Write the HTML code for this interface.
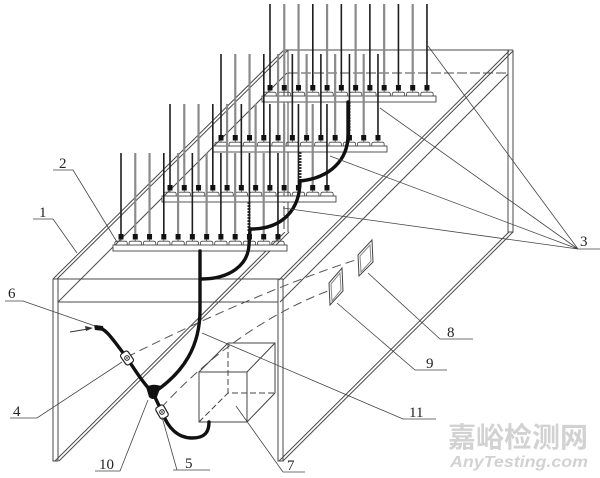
<!DOCTYPE html>
<html>
<head>
<meta charset="utf-8">
<style>
  html,body{margin:0;padding:0;background:#fff;}
  body{width:600px;height:478px;overflow:hidden;}
  svg{display:block;}
  .lbl{font-family:"Liberation Serif",serif;font-size:15px;fill:#222;}
</style>
</head>
<body>
<svg width="600" height="478" viewBox="0 0 600 478" xmlns="http://www.w3.org/2000/svg">
  <defs>
    <g id="rodG">
      <line x1="0" y1="153" x2="0" y2="235" stroke="#8a8a8a" stroke-width="2.2"/>
      <rect x="-2.5" y="234" width="5" height="5.5" fill="#111"/>
      <path d="M0,239 V241 M-6.2,245 v-1.8 q0,-2 2,-2 h8.4 q2,0 2,2 v1.8" stroke="#444" fill="none" stroke-width="0.8"/>
    </g>
    <g id="rodB">
      <line x1="0" y1="153" x2="0" y2="235" stroke="#1e1e1e" stroke-width="1.6"/>
      <rect x="-2.5" y="234" width="5" height="5.5" fill="#111"/>
      <path d="M0,239 V241 M-6.2,245 v-1.8 q0,-2 2,-2 h8.4 q2,0 2,2 v1.8" stroke="#444" fill="none" stroke-width="0.8"/>
    </g>
    <g id="lv">
      <rect x="113" y="245" width="174" height="6" fill="#fff" stroke="#444" stroke-width="0.9"/>
      <line x1="200" y1="251" x2="200" y2="280" stroke="#333" stroke-width="3" stroke-dasharray="2 1"/>
      <use href="#rodB" x="121"/>
      <use href="#rodG" x="135.27"/>
      <use href="#rodG" x="149.54"/>
      <use href="#rodB" x="163.81"/>
      <use href="#rodG" x="178.08"/>
      <use href="#rodB" x="192.35"/>
      <use href="#rodG" x="206.62"/>
      <use href="#rodB" x="220.89"/>
      <use href="#rodG" x="235.16"/>
      <use href="#rodB" x="249.43"/>
      <use href="#rodG" x="263.7"/>
      <use href="#rodB" x="277.97"/>
    </g>
  </defs>

  <!-- Frame -->
  <g stroke="#4a4a4a" stroke-width="1" fill="none">
    <path d="M53,279 H283"/>
    <path d="M58,302 H278"/>
    <path d="M53,279 V461 H58 V279"/>
    <path d="M278,279 V461 H283 V279"/>
    <path d="M53,279 L284,50"/>
    <path d="M57,279 L288,50"/>
    <path d="M58,302 L287,73"/>
    <path d="M55,461 L285,232"/>
    <path d="M59,461 L289,232"/>
    <path d="M279,280 L509,51"/>
    <path d="M283,280 L513,51"/>
    <path d="M280,302 L508,74"/>
    <path d="M279,461 L509,232"/>
    <path d="M283,461 L513,232"/>
    <path d="M284,50 H513"/>
    <path d="M288,73 H508" stroke-dasharray="10 3"/>
    <path d="M508,50 V232 H513 V50"/>
    <path d="M284,50 V232" stroke-dasharray="10 3"/>
    <path d="M288,50 V232"/>
  </g>

  <!-- levels (back to front) -->
  <use href="#lv" transform="translate(149,-149)"/>
  <use href="#lv" transform="translate(100,-99)"/>
  <use href="#lv" transform="translate(49,-49)"/>
  <use href="#lv"/>

  <!-- dashed lines to panels -->
  <g stroke="#555" stroke-width="1" fill="none" stroke-dasharray="9 5">
    <path d="M127,357 C190,325 290,280 362,258"/>
    <path d="M161,408 C200,365 260,315 336,288"/>
  </g>

  <!-- panels 8, 9 -->
  <g stroke="#444" fill="#fff" stroke-width="1">
    <polygon points="358,255 372,240 373,262 359,276"/>
    <polygon points="360,256 370,245 371,261 361,272" fill="none" stroke="#888"/>
    <polygon points="329,283 342,268 343,291 330,305"/>
    <polygon points="331,284 340,273 341,290 332,301" fill="none" stroke="#888"/>
  </g>

  <!-- box 7 -->
  <g stroke="#444" stroke-width="1" fill="none">
    <rect x="199" y="372" width="48" height="50"/>
    <path d="M228,343 H275 V393"/>
    <path d="M228,343 V393 H275" stroke-dasharray="6 3"/>
    <path d="M199,372 L228,343"/>
    <path d="M247,372 L275,343"/>
    <path d="M247,422 L275,393"/>
    <path d="M199,422 L228,393" stroke-dasharray="6 3"/>
  </g>

  <!-- hoses -->
  <g stroke="#111" stroke-width="3.4" fill="none" stroke-linecap="round">
    <path d="M348,102 L348,135 C348,160 330,178 300,181"/>
    <path d="M300,181 C300,210 282,229 251,229"/>
    <path d="M250,229 L249,245 C248,265 230,279 201,279"/>
    <path d="M200,251 L200,310 C200,345 185,372 153,393"/>
    <path d="M97,327 C106,328 113,340 127,358 C135,370 143,383 153,393"/>
    <path d="M153,393 L162,412 C168,428 178,438 192,438 C205,438 209,432 209,422"/>
  </g>
  <path d="M94,325 L103,326 L104,331 L95,330 Z" fill="#111"/>
  <!-- junction 10 -->
  <path d="M146,387 Q153,383 161,386 L157,397 Q153,401 149,397 Z" fill="#111"/>

  <!-- valves -->
  <g transform="translate(127,358) rotate(-35)">
    <rect x="-4.5" y="-6.5" width="9" height="13" rx="2.5" fill="#fff" stroke="#222" stroke-width="1.2"/>
    <circle r="2.3" fill="#fff" stroke="#222" stroke-width="1"/>
    <circle r="0.8" fill="#222"/>
  </g>
  <g transform="translate(162,412) rotate(-30)">
    <rect x="-4.5" y="-6.5" width="9" height="13" rx="2.5" fill="#fff" stroke="#222" stroke-width="1.2"/>
    <circle r="2.3" fill="#fff" stroke="#222" stroke-width="1"/>
    <circle r="0.8" fill="#222"/>
  </g>

  <!-- arrow -->
  <line x1="70" y1="332" x2="88" y2="329" stroke="#333" stroke-width="1"/>
  <polygon points="93,328 85,326 86,331" fill="#333"/>

  <!-- leaders -->
  <g stroke="#444" stroke-width="0.8" fill="none">
    <path d="M33,219 H53 L77,253"/>
    <path d="M53,170 H73 L117,242"/>
    <path d="M600,249 H578 L428,46 M578,249 L380,108 M578,249 L330,156 M578,249 L283,208"/>
    <path d="M10,418 H37 L122,362"/>
    <path d="M210,470 H173 M177,470 L162,417"/>
    <path d="M5,301 H23 L95,326"/>
    <path d="M305,472 H283 L236,406"/>
    <path d="M473,339 H440 L368,273"/>
    <path d="M447,370 H415 L337,303"/>
    <path d="M95,471 H120 L148,400"/>
    <path d="M436,419 H403 L202,333"/>
  </g>

  <!-- labels -->
  <text class="lbl" x="39" y="217">1</text>
  <text class="lbl" x="59" y="168">2</text>
  <text class="lbl" x="580" y="246">3</text>
  <text class="lbl" x="13" y="416">4</text>
  <text class="lbl" x="185" y="468">5</text>
  <text class="lbl" x="8" y="298">6</text>
  <text class="lbl" x="287" y="470">7</text>
  <text class="lbl" x="447" y="337">8</text>
  <text class="lbl" x="426" y="368">9</text>
  <text class="lbl" x="99" y="469">10</text>
  <text class="lbl" x="409" y="417">11</text>

  <!-- watermark -->
  <text x="448" y="447" font-family="'Liberation Sans','Noto Sans CJK SC',sans-serif" font-size="28" font-weight="bold" fill="#d2d2d2" textLength="140" lengthAdjust="spacingAndGlyphs">嘉峪检测网</text>
  <text x="450" y="467" font-family="'Liberation Sans',sans-serif" font-size="16" font-weight="bold" font-style="italic" fill="#d2d2d2" textLength="138" lengthAdjust="spacingAndGlyphs">AnyTesting.com</text>
</svg>
</body>
</html>
